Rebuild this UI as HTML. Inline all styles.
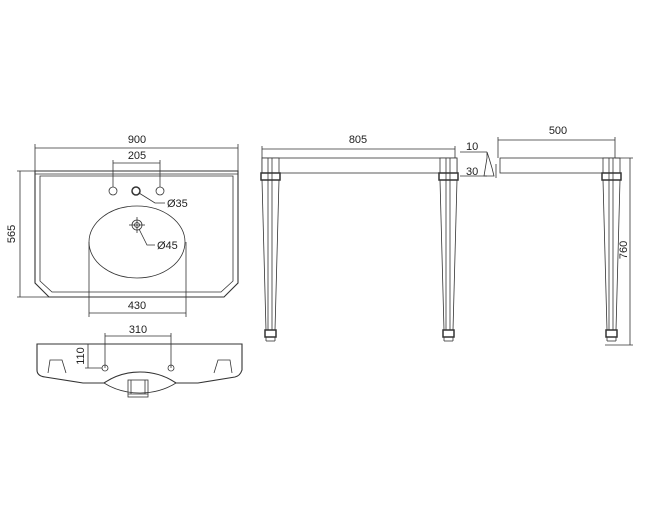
<!DOCTYPE html>
<html><head><meta charset="utf-8"><style>
html,body{margin:0;padding:0;background:#fff;}
svg{display:block}
text{font-family:"Liberation Sans",sans-serif;font-size:11px;fill:#222;}
</style></head><body>
<svg width="645" height="520" viewBox="0 0 645 520" xmlns="http://www.w3.org/2000/svg">
<g fill="none" stroke="#333" stroke-width="0.8">
<path d="M35,171 L238,171 L238,283 L224,297 L49,297 L35,283 Z" stroke-width="1.1"/>
<path d="M40,176 L233,176 L233,281 L221,292 L52,292 L40,281 Z"/>
<line x1="35" y1="174" x2="238" y2="174"/>
<ellipse cx="137" cy="242" rx="48" ry="36"/>
<circle cx="113" cy="191" r="4"/><circle cx="136" cy="191" r="4" stroke-width="1.5"/><circle cx="160" cy="191" r="4"/>
<circle cx="137" cy="225" r="5"/><circle cx="137" cy="225" r="2.5"/>
<line x1="129" y1="225" x2="145" y2="225"/><line x1="137" y1="217" x2="137" y2="233"/>
<line x1="35" y1="148" x2="238" y2="148"/><line x1="35" y1="144" x2="35" y2="171"/><line x1="238" y1="144" x2="238" y2="171"/>
<line x1="113" y1="163" x2="160" y2="163"/><line x1="113" y1="160" x2="113" y2="187"/><line x1="160" y1="160" x2="160" y2="187"/>
<line x1="20" y1="171" x2="20" y2="297"/><line x1="17" y1="171" x2="35" y2="171"/><line x1="17" y1="297" x2="49" y2="297"/>
<line x1="89" y1="242" x2="89" y2="317"/><line x1="186" y1="242" x2="186" y2="317"/><line x1="89" y1="313" x2="186" y2="313"/>
<path d="M139,193 L155,203 L165,203"/>
<path d="M139,229 L147,245 L155,245"/>
<path d="M37,344 L242,344 L242,370 Q240,376 235,377 L198,383 L176,383 Q160,372 140,372 Q120,372 104,383 L83,383 L45,377 Q37,376 37,370 Z" stroke-width="1.1"/>
<path d="M104,383 Q120,393 140,393 Q160,393 176,383"/>
<rect x="128" y="380" width="20" height="17"/><line x1="131" y1="380" x2="131" y2="394"/><line x1="145" y1="380" x2="145" y2="394"/><line x1="128" y1="394" x2="148" y2="394"/>
<path d="M48,373 L50,360 L62,360 L66,373"/><path d="M214,373 L218,360 L230,360 L232,373"/>
<circle cx="105" cy="368" r="3"/><circle cx="171" cy="368" r="3"/>
<line x1="105" y1="333" x2="105" y2="368"/><line x1="171" y1="333" x2="171" y2="368"/><line x1="105" y1="336" x2="171" y2="336"/>
<line x1="88" y1="344" x2="88" y2="368"/><line x1="85" y1="344" x2="100" y2="344"/><line x1="85" y1="368" x2="102" y2="368"/>
<line x1="262" y1="149" x2="455" y2="149"/><line x1="262" y1="146" x2="262" y2="158"/><line x1="455" y1="146" x2="455" y2="158"/>
<rect x="262" y="158" width="195" height="15"/>
<g id="leg">
<rect x="262" y="158" width="17" height="15" fill="#fff"/>
<line x1="268" y1="158" x2="268" y2="330"/><line x1="272" y1="158" x2="272" y2="330"/>
<rect x="261" y="173" width="19" height="7" stroke-width="1.5"/>
<path d="M262,180 L266,330 M279,180 L275,330"/>
<rect x="265" y="330" width="11" height="7" stroke-width="1.5"/>
<line x1="266" y1="337" x2="266" y2="341"/><line x1="275" y1="337" x2="275" y2="341"/><line x1="266" y1="341" x2="275" y2="341"/>
</g>
<use href="#leg" transform="translate(178,0)"/>
<line x1="498" y1="140" x2="615" y2="140"/><line x1="498" y1="137" x2="498" y2="158"/><line x1="615" y1="137" x2="615" y2="158"/>
<rect x="500" y="158" width="115" height="15"/>
<use href="#leg" transform="translate(341,0)"/>
<line x1="630" y1="158" x2="630" y2="345"/><line x1="615" y1="158" x2="633" y2="158"/><line x1="605" y1="345" x2="633" y2="345"/>
<line x1="460" y1="152" x2="487" y2="152"/><line x1="460" y1="176" x2="487" y2="176"/>
<path d="M487,152 L487,158 L484,176 L494,176 L492,168 L489,158 Z M496,164 L496,178"/>
</g>
<text x="137" y="143" text-anchor="middle">900</text>
<text x="137" y="159" text-anchor="middle">205</text>
<text x="167" y="207">Ø35</text>
<text x="157" y="249">Ø45</text>
<text x="137" y="309" text-anchor="middle">430</text>
<text transform="translate(15,234) rotate(-90)" text-anchor="middle">565</text>
<text x="138" y="333" text-anchor="middle">310</text>
<text transform="translate(84,356) rotate(-90)" text-anchor="middle">110</text>
<text x="358" y="143" text-anchor="middle">805</text>
<text x="558" y="134" text-anchor="middle">500</text>
<text x="466" y="150">10</text>
<text x="466" y="175">30</text>
<text transform="translate(627,250) rotate(-90)" text-anchor="middle">760</text>
</svg>
</body></html>
